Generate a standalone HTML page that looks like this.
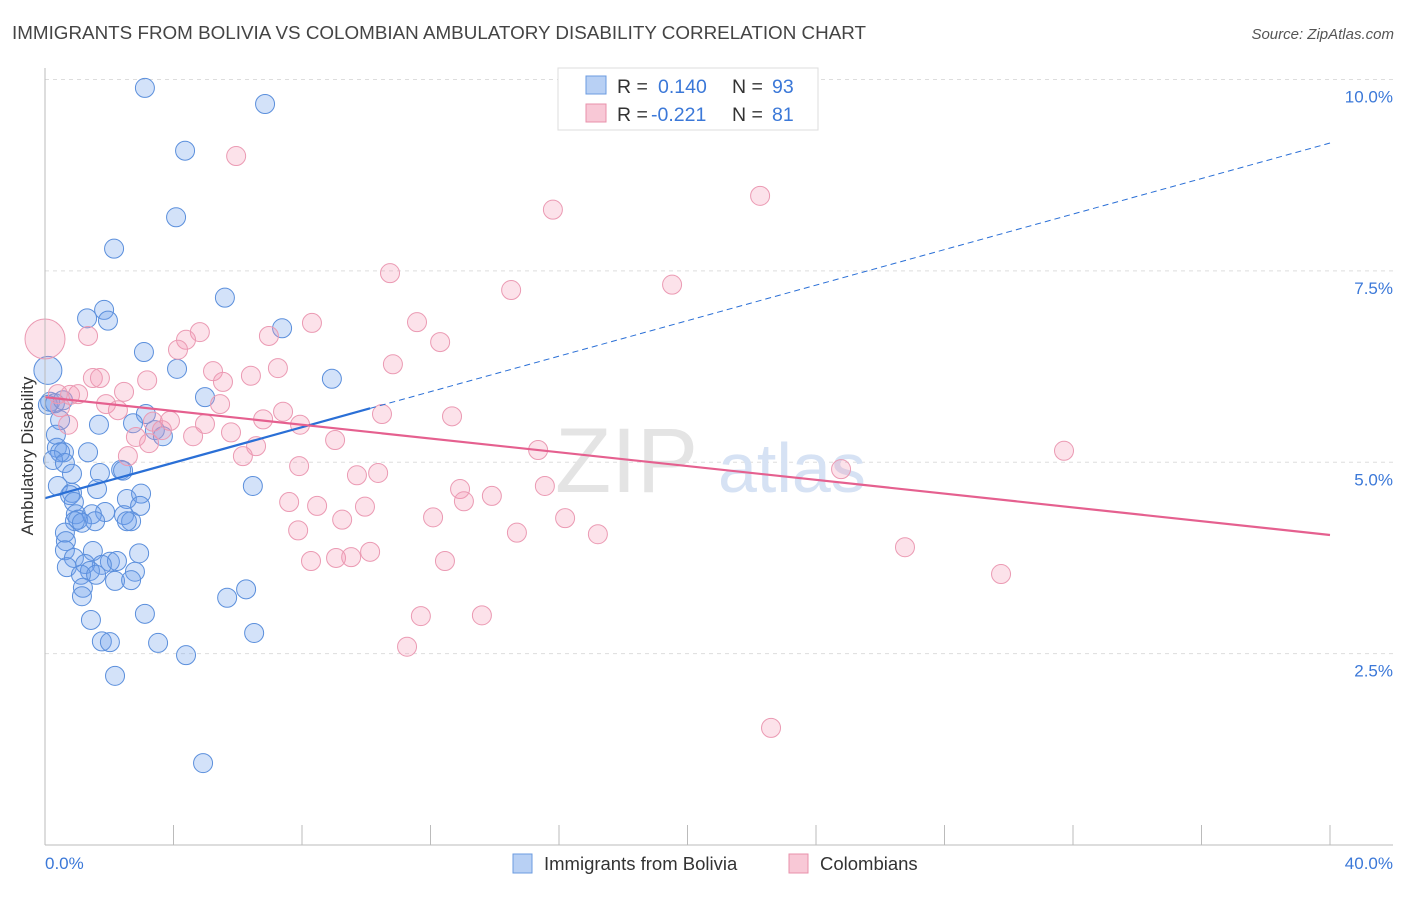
<!DOCTYPE html>
<html><head><meta charset="utf-8"><style>
body{margin:0;background:#fff;font-family:"Liberation Sans",sans-serif;}
svg text{font-family:"Liberation Sans",sans-serif;}
</style></head><body>
<svg width="1406" height="892" xmlns="http://www.w3.org/2000/svg">
<text x="12" y="39" font-size="18" fill="#444" textLength="854" lengthAdjust="spacingAndGlyphs">IMMIGRANTS FROM BOLIVIA VS COLOMBIAN AMBULATORY DISABILITY CORRELATION CHART</text>
<text x="1394" y="39" font-size="15" fill="#555" font-style="italic" text-anchor="end">Source: ZipAtlas.com</text>
<g id="grid"></g>
<g id="yticks"></g>
<g id="xticks"></g>
<text x="555" y="492" font-size="92" fill="#e4e4e4" font-family="Liberation Serif">ZIP</text>
<text x="718" y="492" font-size="70" fill="#d6e2f4">atlas</text>
<g id="blue"></g>
<g id="pink"></g>
<g id="trends"></g>
<line x1="45" y1="68" x2="45" y2="845" stroke="#bbb"/>
<line x1="45" y1="845" x2="1393" y2="845" stroke="#bbb"/>
<text x="33" y="456" font-size="17" fill="#333" text-anchor="middle" transform="rotate(-90 33 456)">Ambulatory Disability</text>
<text x="45" y="869" font-size="17" fill="#3b78d8">0.0%</text>
<text x="1393" y="869" font-size="17" fill="#3b78d8" text-anchor="end">40.0%</text>
<g>
<rect x="558" y="68" width="260" height="62" fill="#fff" stroke="#ddd"/>
<rect x="586" y="76" width="20" height="18" fill="#b8d0f4" stroke="#6b9be0"/>
<rect x="586" y="104" width="20" height="18" fill="#f8c8d6" stroke="#e891ab"/>
<text x="617" y="93" font-size="19.5" fill="#333">R = <tspan fill="#3b78d8" x="658">0.140</tspan><tspan x="732">N = </tspan><tspan fill="#3b78d8" x="772">93</tspan></text>
<text x="617" y="121" font-size="19.5" fill="#333">R = <tspan fill="#3b78d8" x="651">-0.221</tspan><tspan x="732">N = </tspan><tspan fill="#3b78d8" x="772">81</tspan></text>
</g>
<g>
<rect x="513" y="854" width="19" height="19" fill="#b8d0f4" stroke="#6b9be0"/>
<text x="544" y="870" font-size="18.5" fill="#333">Immigrants from Bolivia</text>
<rect x="789" y="854" width="19" height="19" fill="#f8c8d6" stroke="#e891ab"/>
<text x="820" y="870" font-size="18.5" fill="#333">Colombians</text>
</g>
</svg>
<script>
const yTicks=[2.5,5.0,7.5,10.0];
const xTickVals=[0,4,8,12,16,20,24,28,32,36,40];
const blueX=[3.11,6.85,4.36,4.08,2.15,5.60,1.84,1.31,1.96,7.38,3.08,4.11,8.93,4.98,0.09,0.16,0.09,0.31,0.56,3.14,0.47,2.74,1.68,3.42,3.67,0.34,0.37,1.34,0.59,0.47,0.25,0.62,0.84,2.37,2.43,1.71,6.47,0.40,1.62,0.84,0.78,2.55,2.99,0.90,2.96,0.96,2.46,1.87,1.46,1.03,0.93,1.15,1.56,2.68,2.55,0.62,0.65,0.62,1.49,0.90,2.93,2.02,2.24,1.77,1.25,0.68,1.40,1.12,1.59,2.80,2.18,2.68,1.18,1.15,6.26,5.67,3.11,1.43,1.77,2.02,3.52,6.51,4.39,2.18,4.92];
const blueY=[9.89,9.68,9.07,8.20,7.79,7.15,6.99,6.88,6.85,6.75,6.44,6.22,6.09,5.85,6.20,5.79,5.75,5.77,5.81,5.63,5.55,5.51,5.49,5.42,5.34,5.36,5.19,5.13,5.13,5.13,5.03,4.99,4.85,4.90,4.89,4.86,4.69,4.69,4.65,4.60,4.57,4.52,4.59,4.48,4.43,4.32,4.31,4.35,4.32,4.25,4.23,4.21,4.23,4.23,4.23,4.08,3.97,3.85,3.84,3.75,3.81,3.70,3.71,3.66,3.67,3.63,3.58,3.53,3.53,3.57,3.45,3.46,3.36,3.25,3.34,3.23,3.02,2.94,2.66,2.65,2.64,2.77,2.48,2.21,1.07];
const blueBig=[14];
const pinkX=[17.71,5.95,22.26,15.81,10.74,14.51,19.52,0,1.34,4.82,4.39,4.14,6.97,8.31,11.58,12.30,7.25,10.83,5.23,5.54,6.41,3.18,1.49,1.71,0.40,1.03,0.78,2.46,1.90,2.27,5.45,0.47,7.41,6.79,4.98,3.89,10.49,12.67,0.72,2.83,3.36,3.64,3.24,4.61,5.79,6.57,6.16,9.03,15.35,31.72,24.78,7.91,9.71,10.37,7.60,8.47,12.92,13.91,15.56,13.04,9.96,9.25,12.08,7.88,14.69,16.19,17.21,8.28,9.06,9.53,10.12,12.45,26.77,29.76,11.70,13.60,11.27,22.60,2.58,7.94];
const pinkY=[9.99,9.00,8.48,8.30,7.47,7.25,7.32,6.61,6.65,6.70,6.60,6.47,6.65,6.82,6.83,6.57,6.23,6.28,6.19,6.05,6.13,6.07,6.10,6.10,5.89,5.89,5.88,5.92,5.76,5.68,5.76,5.72,5.66,5.56,5.50,5.54,5.63,5.60,5.49,5.33,5.53,5.42,5.25,5.34,5.39,5.21,5.08,5.29,5.16,5.15,4.91,4.95,4.83,4.86,4.48,4.43,4.65,4.56,4.69,4.49,4.42,4.25,4.28,4.11,4.08,4.27,4.06,3.71,3.75,3.76,3.83,3.71,3.89,3.54,2.99,3.00,2.59,1.53,5.08,5.49];
const pinkBig=[7];
const blueTrend=[4.53,9.17]; const blueSolidEnd=10.12;
const pinkTrend=[5.85,4.05];
const NS='http://www.w3.org/2000/svg';
const sx=v=>45+v*32.125, sy=v=>845-v*76.55;
function mk(t,a,p){const e=document.createElementNS(NS,t);for(const k in a)e.setAttribute(k,a[k]);p.appendChild(e);return e;}
const grid=document.getElementById('grid'),yt=document.getElementById('yticks'),xt=document.getElementById('xticks');
yTicks.forEach(v=>{
 const l=mk('line',{x1:45,x2:1393,y1:sy(v),y2:sy(v),stroke:'#ddd','stroke-dasharray':'4,4'},grid);
 
 
 const t=mk('text',{x:1393,y:sy(v)+23,'font-size':17,fill:'#3b78d8','text-anchor':'end'},yt);
 t.textContent=v.toFixed(1)+'%';
 
 
});
xTickVals.forEach(v=>{
 const l=mk('line',{x1:sx(v),x2:sx(v),y1:825,y2:845,stroke:'#bbb'},xt);
 
 
});
function pts(X,Y,big,gid,fill,stroke,name){
 const g=document.getElementById(gid);
 X.forEach((x,i)=>{
  const c=mk('circle',{cx:sx(x),cy:sy(Y[i]),r:big.includes(i)?(name==='colombian-point'?20:14):9.5,fill:fill,stroke:stroke,'stroke-width':1},g);
  
  
 });
}
pts(blueX,blueY,blueBig,'blue','rgba(110,160,235,0.3)','#5b8fdc','bolivia-point');
pts(pinkX,pinkY,pinkBig,'pink','rgba(245,150,180,0.28)','#eb9ab3','colombian-point');
const tr=document.getElementById('trends');
const by=x=>blueTrend[0]+(blueTrend[1]-blueTrend[0])*x/40;
const b1=mk('line',{x1:sx(0),y1:sy(by(0)),x2:sx(blueSolidEnd),y2:sy(by(blueSolidEnd)),stroke:'#2a6fd6','stroke-width':2.2},tr);


const b2=mk('line',{x1:sx(blueSolidEnd),y1:sy(by(blueSolidEnd)),x2:sx(40),y2:sy(by(40)),stroke:'#2a6fd6','stroke-width':1,'stroke-dasharray':'6,4'},tr);


const p1=mk('line',{x1:sx(0),y1:sy(pinkTrend[0]),x2:sx(40),y2:sy(pinkTrend[1]),stroke:'#e5608f','stroke-width':2.2},tr);


</script>
</body></html>
